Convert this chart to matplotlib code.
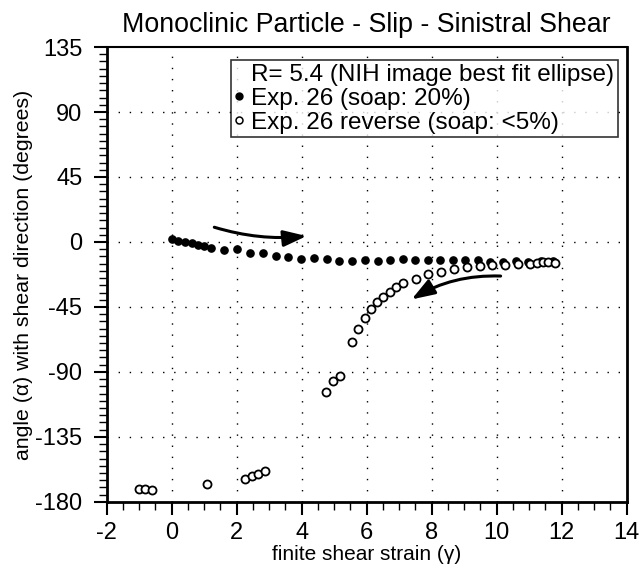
import numpy as np
import matplotlib
matplotlib.use('Agg')
import matplotlib.pyplot as plt
from matplotlib.lines import Line2D
from matplotlib.ticker import MultipleLocator

plt.rcParams['font.family'] = ['Liberation Sans', 'DejaVu Sans']
plt.rcParams['axes.unicode_minus'] = False

# Exp. 26 (soap: 20%) - filled points
x_fwd = [0.02, 0.19, 0.40, 0.61, 0.81, 0.99, 1.22, 1.61, 2.02, 2.41, 2.81, 3.21,
         3.59, 3.99, 4.38, 4.79, 5.16, 5.56, 5.95, 6.34, 6.72, 7.11, 7.49, 7.88,
         8.27, 8.65, 9.03, 9.41, 9.79, 10.18, 10.58, 10.95, 11.37, 11.72]
y_fwd = [2.0, 0.7, 0.0, -0.5, -2.1, -2.6, -4.2, -5.6, -5.1, -7.7, -7.7, -9.5,
         -10.2, -11.6, -11.4, -12.0, -13.0, -13.2, -12.7, -13.2, -12.7, -12.0, -12.7, -12.7,
         -12.7, -12.7, -12.5, -12.5, -13.7, -14.1, -13.0, -13.7, -13.2, -13.4]

# Exp. 26 reverse (soap: <5%) - open points
x_rev = [-1.02, -0.83, -0.62, 1.10, 2.27, 2.46, 2.66, 2.86, 4.76, 4.96, 5.17, 5.55,
         5.74, 5.94, 6.13, 6.33, 6.51, 6.71, 6.91, 7.11, 7.51, 7.90, 8.29, 8.69,
         9.08, 9.48, 9.87, 10.26, 10.66, 11.02, 11.23, 11.41, 11.59, 11.78]
y_rev = [-171.0, -171.0, -171.5, -167.6, -164.3, -162.3, -160.7, -158.6, -104.1, -96.5, -92.6, -69.5,
         -60.3, -52.8, -46.6, -41.7, -37.9, -34.6, -31.1, -28.2, -25.6, -22.0, -20.6, -18.7,
         -17.5, -16.6, -16.2, -15.7, -15.0, -15.2, -14.5, -13.6, -13.9, -14.8]

x_ticks = [-2, 0, 2, 4, 6, 8, 10, 12, 14]
y_ticks = [-180, -135, -90, -45, 0, 45, 90, 135]

fig = plt.figure(figsize=(6.41, 5.70), dpi=100)
ax = fig.add_axes([0.1665, 0.1195, 0.8112, 0.798])

ax.plot(x_fwd, y_fwd, 'o', color='black', ms=5.2, zorder=3)
ax.plot(x_rev, y_rev, 'o', mfc='white', mec='black', mew=1.3, ms=5.8, zorder=3)

# arrows showing shear sense
ax.annotate('', xy=(4.15, 4.1), xytext=(1.31, 10.2),
            arrowprops=dict(arrowstyle='-|>,head_length=1.0,head_width=0.35',
                            connectionstyle='arc3,rad=0.1', lw=2.2, color='black',
                            shrinkA=0, shrinkB=0, mutation_scale=14))
ax.annotate('', xy=(7.38, -39.8), xytext=(10.12, -23.6),
            arrowprops=dict(arrowstyle='-|>,head_length=1.0,head_width=0.35',
                            connectionstyle='arc3,rad=0.15', lw=2.2, color='black',
                            shrinkA=0, shrinkB=0, mutation_scale=14))

ax.set_xlim(-2, 14)
ax.set_ylim(-180, 135)
ax.set_xticks(x_ticks)
ax.set_yticks(y_ticks)
ax.xaxis.set_minor_locator(MultipleLocator(0.5))
ax.yaxis.set_minor_locator(MultipleLocator(5))
ax.tick_params(which='major', direction='out', length=9.5, width=1.5, labelsize=17, pad=5)
ax.tick_params(which='minor', direction='out', length=5.5, width=1.0)
ax.tick_params(axis='y', which='major', pad=8)
ax.tick_params(axis='x', which='both', top=False)
ax.tick_params(axis='y', which='both', right=False)

for g in [0, 2, 4, 6, 8, 10, 12]:
    ax.axvline(g, color='black', lw=1, linestyle=(0, (1, 7)), zorder=1)
for g in [-135, -90, -45, 0, 45, 90]:
    ax.axhline(g, color='black', lw=1, linestyle=(0, (1, 7)), zorder=1)

for side in ['left', 'bottom', 'right']:
    ax.spines[side].set_linewidth(2.0)
ax.spines['top'].set_linewidth(1.5)

ax.set_title('Monoclinic Particle - Slip - Sinistral Shear', fontsize=19.3, pad=11)
ax.set_xlabel('finite shear strain (\u03b3)', fontsize=15, labelpad=1)
ax.set_ylabel('angle (\u03b1) with shear direction (degrees)', fontsize=15.3, labelpad=2)

handles = [Line2D([], [], linestyle='none'),
           Line2D([], [], linestyle='none', marker='o', color='black', ms=5),
           Line2D([], [], linestyle='none', marker='o', mfc='white', mec='black', mew=1.1, ms=5)]
labels = ['R= 5.4 (NIH image best fit ellipse)', 'Exp. 26 (soap: 20%)', 'Exp. 26 reverse (soap: <5%)']
leg = ax.legend(handles, labels, loc='upper right', bbox_to_anchor=(0.983, 0.971),
                fontsize=17.5, frameon=True, fancybox=False, edgecolor='black',
                handlelength=0.4, handletextpad=0.3, borderpad=0.15, labelspacing=0.08,
                borderaxespad=0)
leg.get_frame().set_linewidth(1.2)

fig.savefig('out.png', dpi=100)
